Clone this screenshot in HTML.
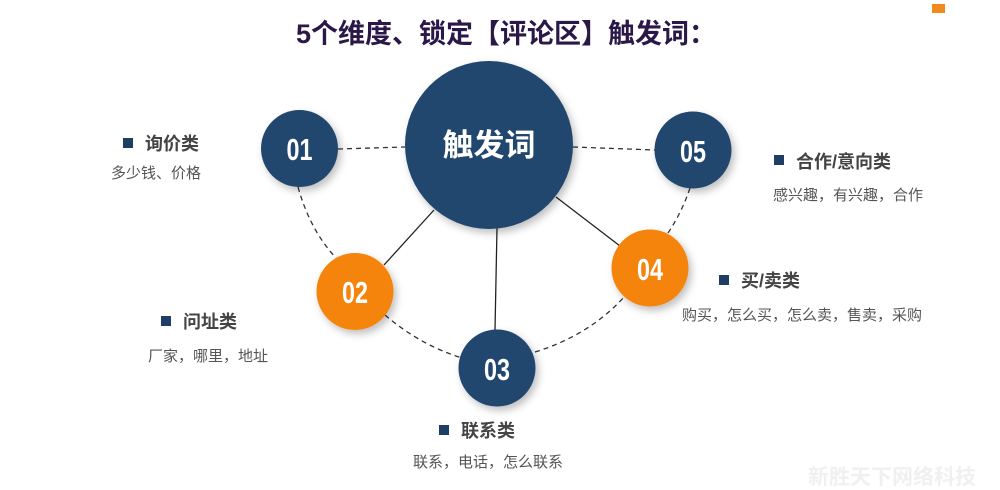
<!DOCTYPE html>
<html><head><meta charset="utf-8"><style>
html,body{margin:0;padding:0;background:#fff;}
body{width:1000px;height:490px;overflow:hidden;position:relative;font-family:"Liberation Sans","Noto Sans CJK SC",sans-serif;}
</style></head><body>
<svg width="1000" height="490" viewBox="0 0 1000 490" xmlns="http://www.w3.org/2000/svg" style="position:absolute;left:0;top:0">
<defs>
<filter id="sh" x="-30%" y="-30%" width="160%" height="160%"><feDropShadow dx="3" dy="4" stdDeviation="4" flood-color="#000" flood-opacity="0.25"/></filter>
</defs>
<rect x="932" y="4" width="13" height="9" fill="#f08a1c"/>
<text x="506" y="43" text-anchor="middle" font-size="27" font-weight="bold" fill="#2a1848" font-family="Liberation Sans,Noto Sans CJK SC,sans-serif">5个维度、锁定【评论区】触发词：</text>
<g stroke="#333" stroke-width="1.3" fill="none" stroke-dasharray="5,4">
<line x1="338" y1="149" x2="405" y2="147"/>
<line x1="573" y1="147" x2="655" y2="150"/>
<path d="M298,187 Q310,230 336,258"/>
<path d="M385,315 Q420,345 462,358"/>
<path d="M535,352 Q590,335 625,296"/>
<path d="M668,233 Q682,212 690,188"/>
</g>
<g stroke="#222" stroke-width="1.3">
<line x1="434" y1="210" x2="384" y2="265"/>
<line x1="497" y1="228" x2="495" y2="330"/>
<line x1="556" y1="197" x2="620" y2="246"/>
</g>
<g filter="url(#sh)">
<circle cx="489" cy="145" r="84" fill="#23466e"/>
<circle cx="299.5" cy="148.5" r="38.5" fill="#23466e"/>
<circle cx="693" cy="150" r="38.5" fill="#23466e"/>
<circle cx="355" cy="291.5" r="38.5" fill="#f58410"/>
<circle cx="650" cy="268" r="38.5" fill="#f58410"/>
<circle cx="497" cy="368" r="38.5" fill="#23466e"/>
</g>
<text x="489" y="156" text-anchor="middle" font-size="31" font-weight="bold" fill="#fff">触发词</text>
<g font-weight="bold" font-size="31" fill="#fff" text-anchor="middle">
<text x="299.5" y="160" textLength="26" lengthAdjust="spacingAndGlyphs">01</text>
<text x="693" y="162" textLength="26" lengthAdjust="spacingAndGlyphs">05</text>
<text x="355" y="303" textLength="26" lengthAdjust="spacingAndGlyphs">02</text>
<text x="650" y="280" textLength="26" lengthAdjust="spacingAndGlyphs">04</text>
<text x="497" y="380" textLength="26" lengthAdjust="spacingAndGlyphs">03</text>
</g>
<g fill="#1f3e66">
<rect x="123" y="138" width="10" height="10"/>
<rect x="161" y="316" width="10" height="10"/>
<rect x="439" y="425" width="10" height="10"/>
<rect x="719" y="275" width="10" height="10"/>
<rect x="774" y="155" width="10" height="10"/>
</g>
<g font-size="18" font-weight="bold" fill="#444">
<text x="145" y="150">询价类</text>
<text x="183" y="328">问址类</text>
<text x="461" y="437">联系类</text>
<text x="741" y="287">买/卖类</text>
<text x="796" y="168">合作/意向类</text>
</g>
<g font-size="15" fill="#555">
<text x="111" y="178">多少钱、价格</text>
<text x="148" y="361">厂家，哪里，地址</text>
<text x="413" y="467">联系，电话，怎么联系</text>
<text x="682" y="320">购买，怎么买，怎么卖，售卖，采购</text>
<text x="773" y="200">感兴趣，有兴趣，合作</text>
</g>
<text x="808" y="484" font-size="21" font-weight="bold" fill="#f0f0f0">新胜天下网络科技</text>
</svg>
</body></html>
